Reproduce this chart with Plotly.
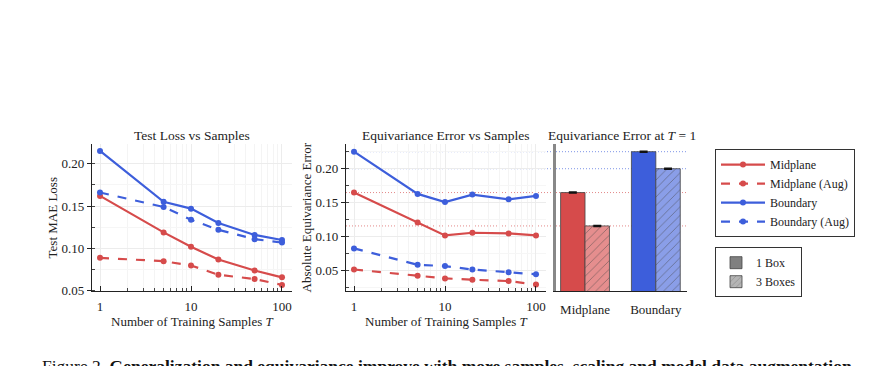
import plotly.graph_objects as go

W, H = 871, 366

samples = [1, 5, 10, 20, 50, 100]

# Panel 1: Test MAE loss
loss_mid = [0.162, 0.119, 0.102, 0.087, 0.074, 0.066]
loss_mid_aug = [0.089, 0.085, 0.080, 0.069, 0.064, 0.057]
loss_bnd = [0.215, 0.155, 0.147, 0.130, 0.116, 0.110]
loss_bnd_aug = [0.166, 0.149, 0.134, 0.122, 0.111, 0.107]

# Panel 2: absolute equivariance error
eq_mid = [0.165, 0.121, 0.102, 0.106, 0.105, 0.102]
eq_mid_aug = [0.052, 0.043, 0.039, 0.037, 0.035, 0.030]
eq_bnd = [0.225, 0.163, 0.151, 0.162, 0.155, 0.160]
eq_bnd_aug = [0.083, 0.059, 0.057, 0.052, 0.048, 0.045]

# Panel 3: equivariance error at T = 1
bar_cats = ["Midplane", "Boundary"]
bar_one_box = [0.165, 0.225]
bar_three_boxes = [0.116, 0.200]
bar_err = [0.0008, 0.0008]

major_x = [1, 10, 100]
minor_x = [2, 3, 4, 5, 6, 7, 8, 9, 20, 30, 40, 50, 60, 70, 80, 90]

RED = "#d64b4b"
BLUE = "#3d5edb"
RED_L = "#e58e8e"
BLUE_L = "#8a9ee8"
FONT = "Liberation Serif"


def px_x(p):
    return p / W


def px_y(p):
    return 1 - p / H


d1 = [px_x(92), px_x(292)]
d2 = [px_x(346), px_x(546)]
d3 = [px_x(556), px_x(687)]
dy = [px_y(297), px_y(147)]

fig = go.Figure()

series = [
    ("Midplane", RED, "solid"),
    ("Midplane (Aug)", RED, "dash"),
    ("Boundary", BLUE, "solid"),
    ("Boundary (Aug)", BLUE, "dash"),
]
p1 = [loss_mid, loss_mid_aug, loss_bnd, loss_bnd_aug]
p2 = [eq_mid, eq_mid_aug, eq_bnd, eq_bnd_aug]

for (name, col, dash), ys in zip(series, p1):
    fig.add_trace(go.Scatter(x=samples, y=ys, mode="lines+markers", name=name,
                             line=dict(color=col, width=2.2, dash=dash),
                             marker=dict(size=6, color=col),
                             xaxis="x", yaxis="y", legend="legend"))
for (name, col, dash), ys in zip(series, p2):
    fig.add_trace(go.Scatter(x=samples, y=ys, mode="lines+markers", name=name,
                             line=dict(color=col, width=2.2, dash=dash),
                             marker=dict(size=6, color=col), showlegend=False,
                             xaxis="x2", yaxis="y2"))

bw = 0.345
fig.add_trace(go.Bar(x=[0, 1], y=bar_one_box, width=bw, offset=-bw,
                     marker=dict(color=[RED, BLUE], line=dict(color="#444", width=0.8)),
                     error_y=dict(type="data", array=bar_err, color="#111", thickness=1.5, width=4),
                     showlegend=False, xaxis="x3", yaxis="y3"))
fig.add_trace(go.Bar(x=[0, 1], y=bar_three_boxes, width=bw, offset=0,
                     marker=dict(color=[RED_L, BLUE_L], line=dict(color="#444", width=0.8),
                                 pattern=dict(shape="/", fgcolor="#555", size=6, solidity=0.15)),
                     error_y=dict(type="data", array=bar_err, color="#111", thickness=1.5, width=4),
                     showlegend=False, xaxis="x3", yaxis="y3"))
# legend-only bar entries
fig.add_trace(go.Bar(x=[None], y=[None], name="1 Box",
                     marker=dict(color="#808080", line=dict(color="#444", width=0.8)),
                     xaxis="x3", yaxis="y3", legend="legend2"))
fig.add_trace(go.Bar(x=[None], y=[None], name="3 Boxes",
                     marker=dict(color="#b5b5b5", line=dict(color="#444", width=0.8),
                                 pattern=dict(shape="/", fgcolor="#555", size=5, solidity=0.15)),
                     xaxis="x3", yaxis="y3", legend="legend2"))

# dotted reference lines
for val, col in zip(bar_one_box + bar_three_boxes, [RED, BLUE, RED, BLUE]):
    fig.add_shape(type="line", xref="paper", yref="y2", x0=d2[0], x1=d3[1],
                  y0=val, y1=val, layer="below",
                  line=dict(color=col, width=1, dash="1px,2px"), opacity=0.65)

grid = "#ececec"
axis_common = dict(showline=True, linecolor="#222", linewidth=1.3, mirror=False,
                   tickfont=dict(family=FONT, size=13, color="#222"),
                   title_font=dict(family=FONT, size=13, color="#222"),
                   zeroline=False)


def xlog(domain, anchor):
    return dict(type="log", domain=domain, anchor=anchor,
                range=[-0.088, 2.11], tickvals=major_x, ticktext=[str(v) for v in major_x],
                ticks="inside", ticklen=5, tickcolor="#222", ticklabelstandoff=3,
                minor=dict(tickvals=minor_x, ticks="inside", ticklen=3, tickcolor="#444",
                           showgrid=True, gridcolor="#f4f4f4"),
                showgrid=True, gridcolor=grid,
                **axis_common)


def ylin(domain, anchor, rng, title):
    return dict(domain=domain, anchor=anchor, range=rng, dtick=0.05, tick0=0.05,
                tickformat=".2f", ticks="outside", ticklen=4, tickcolor="#222",
                minor=dict(ticks="inside", ticklen=3, dtick=0.025, tickcolor="#444",
                           showgrid=True, gridcolor="#f6f6f6"),
                showgrid=True, gridcolor=grid,
                title=dict(text=title, standoff=0), **axis_common)


fig.update_layout(
    width=W, height=H, margin=dict(l=0, r=0, t=0, b=0),
    paper_bgcolor="white", plot_bgcolor="rgba(0,0,0,0)",
    font=dict(family=FONT, size=13, color="#222"),
    barmode="overlay",
    xaxis=xlog(d1, "y"),
    xaxis2=xlog(d2, "y2"),
    yaxis=ylin(dy, "x", [0.0495, 0.223], "Test MAE Loss"),
    yaxis2=ylin(dy, "x2", [0.020, 0.236], "Absolute Equivariance Error"),
    xaxis3=dict(domain=d3, anchor="y3", range=[-0.41, 1.44], tickvals=[0, 1], ticktext=bar_cats,
                ticks="outside", ticklen=6, tickcolor="rgba(0,0,0,0)",
                showgrid=False, showline=True, linecolor="#222", linewidth=1.3,
                tickfont=dict(family=FONT, size=13, color="#222"), zeroline=False),
    yaxis3=dict(domain=dy, anchor="x3", matches="y2", range=[0.020, 0.236], showticklabels=False,
                ticks="", showgrid=False, showline=True, linecolor="#888", linewidth=2.5, zeroline=False),
    legend=dict(x=px_x(715), y=px_y(152), xanchor="left", yanchor="top",
                bordercolor="#333", borderwidth=1, bgcolor="white",
                font=dict(family=FONT, size=12, color="#222"), tracegroupgap=0,
                itemwidth=44),
    legend2=dict(x=px_x(715), y=px_y(252), xanchor="left", yanchor="top",
                 bordercolor="#333", borderwidth=1, bgcolor="white",
                 font=dict(family=FONT, size=12, color="#222")),
)

titles = [
    ((d1[0] + d1[1]) / 2, "Test Loss vs Samples"),
    ((d2[0] + d2[1]) / 2, "Equivariance Error vs Samples"),
    ((d3[0] + d3[1]) / 2, "Equivariance Error at <i>T</i> = 1"),
]
for xc, t in titles:
    fig.add_annotation(x=xc, y=px_y(138), xref="paper", yref="paper", text=t,
                       showarrow=False, xanchor="center", yanchor="middle",
                       font=dict(family=FONT, size=13.5, color="#222"))

# x-axis titles
for dom in (d1, d2):
    fig.add_annotation(x=(dom[0] + dom[1]) / 2, y=px_y(328), xref="paper", yref="paper",
                       text="Number of Training Samples <i>T</i>", showarrow=False,
                       xanchor="center", yanchor="middle",
                       font=dict(family=FONT, size=13, color="#222"))

fig.add_annotation(x=px_x(40), y=px_y(361), xref="paper", yref="paper",
                   text="Figure 2. <b>Generalization and equivariance improve with more samples, scaling and model data augmentation.</b>",
                   showarrow=False, xanchor="left", yanchor="top",
                   font=dict(family=FONT, size=17.5, color="#111"))

fig.write_html("out.html", config={"displayModeBar": False},
               post_script="document.body.style.margin='0';document.body.style.overflow='hidden';")
